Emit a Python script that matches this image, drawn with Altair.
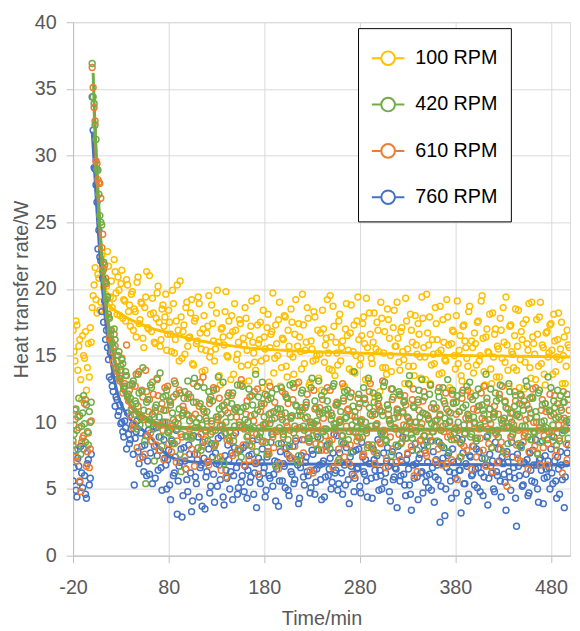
import altair as alt
import pandas as pd

series_names = ["100 RPM", "420 RPM", "610 RPM", "760 RPM"]
series_colors = ["#FFC000", "#70AD47", "#ED7D31", "#4472C4"]

# sample times (min): even minutes and odd minutes
time_even = list(range(-20, 500, 2))
time_odd = list(range(-19, 500, 2))

rpm100_even = [
    16.9, 14.6, 17.3, 15.7, 13.2, 16.5, 14.8, 12.4, 15.9, 17.1,
    18.6, 20.3, 19.2, 21.1, 18.4, 22.5, 20.1, 19.6, 22.8, 18.9,
    20.6, 19.3, 21.3, 18.1, 19.9, 20.4, 17.8, 19.1, 20.7, 18.3,
    17.2, 19.8, 18.5, 16.4, 20.9, 17.7, 18.9, 15.6, 19.4, 17.1,
    21.0, 16.8, 18.2, 15.9, 19.7, 17.5, 16.2, 18.8, 17.9, 15.4,
    18.4, 16.6, 19.9, 15.2, 17.6, 16.9, 20.6, 14.8, 17.3, 18.6,
    15.7, 16.4, 19.2, 14.3, 17.8, 16.1, 18.9, 15.5, 17.0, 13.9,
    16.7, 19.5, 15.3, 17.4, 14.6, 18.2, 16.0, 12.8, 17.1, 15.8,
    19.8, 14.9, 16.5, 18.0, 13.6, 16.9, 15.1, 17.7, 14.2, 16.3,
    18.6, 15.4, 13.1, 17.2, 16.0, 14.5, 19.3, 15.9, 17.5, 12.6,
    16.4, 14.8, 18.1, 15.6, 16.8, 13.7, 17.3, 15.0, 19.0, 14.1,
    16.2, 17.9, 13.4, 15.7, 18.5, 14.9, 16.6, 12.9, 17.4, 15.3,
    19.6, 14.4, 16.0, 17.8, 13.0, 15.5, 18.3, 14.7, 16.9, 15.1,
    12.4, 17.0, 15.8, 19.2, 14.0, 16.4, 18.7, 13.5, 15.2, 17.6,
    14.6, 16.1, 12.7, 18.9, 15.4, 16.7, 13.8, 17.3, 15.0, 19.4,
    14.3, 16.5, 17.9, 13.2, 15.6, 18.2, 14.8, 16.0, 11.9, 17.5,
    15.3, 19.0, 14.1, 16.8, 13.6, 17.7, 15.0, 12.5, 18.4, 15.7,
    16.3, 13.9, 17.1, 14.7, 19.3, 15.5, 12.8, 16.9, 14.2, 18.0,
    15.1, 16.6, 13.3, 17.8, 14.9, 19.6, 15.8, 12.9, 16.2, 14.4,
    17.4, 15.2, 18.7, 13.7, 16.0, 14.6, 17.9, 12.6, 15.9, 16.8,
    14.0, 19.1, 15.4, 13.5, 17.2, 16.1, 14.8, 18.3, 12.2, 15.6,
    16.7, 14.3, 17.6, 15.0, 19.5, 13.8, 16.4, 15.3, 18.1, 12.9,
    14.9, 17.0, 15.7, 13.4, 16.9, 18.6, 14.5, 15.8, 12.7, 17.3,
    15.1, 16.5, 13.9, 18.4, 14.7, 16.2, 12.5, 17.7, 15.4, 14.1,
    19.0, 15.9, 13.2, 16.6, 17.9, 14.4, 15.6, 12.8, 16.8, 15.2,
    17.4, 13.6, 16.1, 14.9, 18.2, 15.5, 12.9, 16.4, 14.2, 15.8,
]
rpm100_odd = [
    15.3, 17.6, 13.9, 16.2, 11.7, 15.0, 16.8, 14.1, 13.4, 16.0,
    19.5, 21.6, 18.2, 20.8, 19.0, 21.9, 18.7, 20.2, 21.7, 19.4,
    18.6, 22.2, 19.7, 20.9, 18.0, 21.4, 19.2, 17.6, 20.3, 18.8,
    19.6, 16.9, 18.3, 20.5, 17.4, 19.0, 16.3, 18.6, 21.3, 17.0,
    18.1, 19.3, 16.0, 17.8, 20.2, 15.7, 18.5, 17.2, 19.6, 16.6,
    17.5, 15.3, 18.9, 16.2, 20.3, 14.6, 17.9, 16.8, 15.1, 19.0,
    16.3, 18.2, 14.4, 17.6, 15.9, 19.4, 16.7, 13.8, 18.0, 15.4,
    17.2, 14.9, 18.8, 16.1, 15.5, 19.9, 13.5, 17.0, 16.4, 18.3,
    15.0, 17.6, 13.2, 16.8, 18.9, 14.7, 16.0, 17.4, 12.9, 15.8,
    17.8, 14.3, 16.5, 19.1, 15.2, 13.9, 17.3, 16.2, 14.6, 18.4,
    15.5, 17.1, 13.0, 16.6, 19.7, 14.8, 15.9, 17.7, 12.7, 16.3,
    18.0, 14.2, 16.9, 15.1, 17.5, 13.6, 19.2, 15.7, 16.4, 14.0,
    17.3, 15.4, 18.6, 12.8, 16.1, 14.6, 17.9, 15.0, 13.3, 16.7,
    18.4, 14.5, 16.3, 15.2, 19.5, 13.9, 17.2, 16.0, 14.3, 18.1,
    15.6, 12.6, 17.0, 16.5, 14.0, 18.8, 15.3, 13.7, 17.6, 16.2,
    14.8, 17.4, 15.9, 19.3, 13.1, 16.6, 14.4, 18.2, 15.5, 16.9,
    12.3, 17.8, 15.2, 14.1, 18.5, 16.3, 13.8, 17.1, 15.7, 19.0,
    14.5, 16.8, 15.3, 12.9, 17.6, 14.2, 18.1, 16.0, 13.5, 15.8,
    17.4, 14.9, 19.4, 15.6, 13.2, 16.7, 17.9, 14.3, 15.1, 18.6,
    16.2, 13.6, 15.4, 17.7, 14.7, 19.2, 15.8, 12.4, 16.9, 15.0,
    18.0, 14.4, 16.5, 13.1, 17.3, 15.6, 14.2, 18.7, 16.1, 13.7,
    15.9, 17.5, 14.6, 19.1, 16.3, 12.8, 17.0, 15.2, 14.0, 18.2,
    16.6, 13.4, 15.5, 17.8, 14.8, 16.0, 19.4, 13.9, 17.2, 15.3,
    14.1, 18.5, 15.7, 12.6, 16.8, 17.4, 14.5, 15.9, 18.9, 13.3,
    16.4, 15.1, 17.7, 14.2, 19.0, 15.8, 13.6, 16.7, 14.9, 17.3,
    15.4, 18.1, 13.8, 16.2, 14.7, 17.5, 15.0, 12.9, 16.9, 15.6,
]

rpm420_even = [
    8.6, 10.2, 9.4, 11.8, 7.6, 10.7, 9.9, 11.3, 8.3, 10.0,
    36.9, 33.9, 31.2, 28.9, 25.5, 24.8, 22.0, 20.5, 19.4, 17.8,
    16.9, 15.6, 16.2, 14.6, 15.3, 13.9, 14.4, 12.7, 13.5, 12.1,
    11.8, 12.9, 10.6, 11.4, 13.6, 9.8, 12.3, 10.9, 5.4, 11.7,
    10.2, 12.6, 9.5, 11.1, 13.2, 10.4, 8.9, 11.9, 10.0, 12.4,
    9.2, 11.3, 10.7, 8.4, 12.1, 9.9, 7.6, 10.5, 11.8, 9.0,
    13.1, 10.1, 8.8, 11.5, 9.6, 12.7, 10.3, 7.9, 11.0, 9.4,
    10.8, 12.3, 9.1, 11.6, 8.3, 10.4, 13.4, 9.7, 11.2, 6.9,
    10.0, 12.0, 9.3, 11.4, 8.6, 10.9, 12.8, 9.8, 7.4, 11.1,
    10.2, 8.9, 12.5, 9.5, 11.3, 10.6, 7.8, 11.9, 9.2, 13.0,
    10.4, 8.5, 11.7, 9.9, 12.2, 10.8, 6.7, 11.0, 9.6, 12.6,
    9.1, 10.7, 11.8, 8.2, 10.3, 12.9, 9.7, 11.2, 7.5, 10.5,
    12.4, 9.4, 11.5, 8.8, 10.0, 13.3, 9.9, 11.1, 8.0, 10.6,
    12.0, 9.3, 10.9, 11.6, 8.4, 10.2, 12.7, 9.6, 11.3, 7.2,
    10.8, 9.0, 12.3, 10.4, 8.7, 11.9, 9.8, 13.8, 10.1, 8.9,
    11.4, 9.5, 12.6, 10.0, 8.1, 11.1, 9.7, 12.2, 10.6, 7.7,
    11.8, 9.2, 10.5, 13.0, 8.6, 11.0, 9.9, 12.5, 10.3, 8.3,
    10.9, 12.1, 9.4, 11.5, 8.8, 10.4, 13.5, 9.1, 11.2, 10.0,
    7.9, 12.4, 9.6, 10.7, 11.9, 8.5, 10.2, 12.8, 9.3, 11.0,
    9.7, 12.3, 10.5, 8.2, 11.6, 9.9, 13.2, 10.1, 8.7, 11.4,
    9.5, 12.0, 10.8, 7.4, 11.1, 9.2, 12.7, 10.3, 8.9, 11.7,
    10.0, 8.6, 12.5, 9.8, 11.3, 10.6, 13.6, 9.0, 11.0, 8.1,
    10.4, 12.2, 9.4, 11.8, 10.2, 7.8, 11.5, 9.6, 12.9, 10.7,
    9.1, 11.2, 10.5, 8.4, 12.1, 9.7, 11.6, 13.1, 8.9, 10.3,
    11.9, 9.3, 10.8, 7.6, 12.4, 10.0, 9.5, 11.4, 8.7, 10.9,
    12.6, 9.8, 11.1, 8.3, 10.4, 12.0, 9.2, 11.5, 10.1, 8.8,
]
rpm420_odd = [
    9.1, 11.0, 8.0, 10.5, 9.7, 12.0, 8.5, 9.3, 10.8, 11.5,
    34.4, 32.3, 29.0, 27.1, 25.0, 21.3, 20.6, 19.2, 18.1, 16.6,
    15.9, 17.0, 14.1, 15.0, 13.3, 14.7, 12.5, 13.8, 11.9, 12.8,
    10.9, 13.1, 11.6, 9.5, 12.2, 10.3, 14.1, 8.6, 11.5, 9.9,
    12.8, 10.6, 7.1, 11.3, 9.7, 13.7, 8.2, 10.9, 12.0, 9.3,
    11.6, 8.7, 10.2, 12.9, 9.5, 11.0, 6.3, 10.7, 12.3, 8.9,
    10.5, 11.9, 9.0, 13.3, 10.0, 8.1, 11.4, 9.8, 12.6, 10.3,
    8.6, 11.7, 10.1, 12.4, 9.4, 7.3, 11.0, 10.6, 13.0, 9.2,
    11.5, 8.8, 10.4, 12.2, 9.7, 11.1, 7.9, 10.8, 12.7, 9.5,
    11.2, 10.0, 8.3, 12.0, 9.6, 13.6, 10.9, 8.9, 11.4, 9.8,
    12.1, 7.6, 10.6, 11.8, 9.1, 10.3, 12.5, 8.4, 11.0, 10.2,
    9.4, 11.9, 8.7, 12.8, 10.5, 9.2, 11.3, 7.0, 10.8, 12.2,
    9.7, 11.1, 10.4, 8.6, 12.6, 9.0, 11.6, 10.1, 13.1, 8.8,
    10.7, 12.3, 9.5, 11.0, 8.0, 10.5, 12.9, 9.9, 11.4, 10.0,
    8.5, 11.8, 10.3, 12.4, 9.3, 7.7, 11.2, 10.8, 9.6, 12.1,
    10.1, 8.9, 11.7, 9.4, 13.3, 10.6, 8.3, 11.5, 9.8, 12.0,
    10.9, 9.1, 12.7, 8.7, 11.3, 10.2, 7.5, 11.9, 9.5, 10.7,
    12.3, 8.4, 10.8, 11.6, 9.7, 12.9, 10.0, 8.8, 11.1, 9.3,
    11.7, 10.4, 13.2, 9.0, 10.6, 8.2, 12.1, 9.9, 11.4, 10.1,
    8.6, 11.9, 9.4, 12.6, 10.3, 11.0, 7.8, 10.7, 12.4, 9.2,
    11.5, 10.0, 8.5, 12.2, 9.8, 11.3, 10.6, 13.0, 9.1, 10.4,
    12.0, 8.8, 11.2, 9.6, 10.9, 7.3, 11.8, 10.2, 12.5, 9.4,
    10.7, 11.6, 8.9, 12.8, 9.9, 10.3, 11.1, 8.4, 12.3, 10.0,
    9.5, 12.0, 10.6, 11.4, 8.1, 10.9, 9.7, 12.7, 11.0, 8.7,
    11.8, 9.2, 10.4, 12.2, 8.5, 11.3, 10.1, 9.6, 13.4, 10.8,
    9.0, 11.6, 10.3, 12.4, 8.6, 10.9, 11.5, 9.4, 12.1, 10.2,
]

rpm610_even = [
    8.3, 10.9, 7.1, 9.6, 4.8, 8.8, 11.4, 6.7, 9.2, 8.0,
    36.6, 33.6, 29.6, 28.2, 27.9, 23.1, 21.5, 20.8, 19.4, 16.3,
    16.1, 14.5, 15.7, 13.8, 13.3, 14.2, 12.2, 12.9, 15.8, 11.6,
    10.5, 12.8, 9.9, 13.6, 11.2, 7.3, 12.4, 10.2, 13.9, 9.0,
    11.7, 8.6, 12.1, 10.8, 13.3, 7.9, 11.0, 9.4, 12.6, 10.0,
    8.4, 11.5, 9.7, 13.1, 7.0, 10.3, 12.2, 8.9, 10.9, 6.5,
    11.8, 9.5, 8.0, 12.9, 10.6, 7.6, 11.2, 9.1, 13.4, 8.7,
    10.1, 6.8, 11.9, 9.3, 8.2, 12.5, 10.4, 7.4, 9.8, 11.3,
    5.9, 10.7, 8.6, 12.0, 9.0, 7.7, 11.1, 10.0, 13.2, 8.3,
    9.6, 11.6, 7.2, 10.5, 8.8, 12.3, 9.1, 6.1, 10.8, 8.5,
    11.4, 9.9, 7.8, 12.7, 10.2, 8.1, 9.4, 11.0, 6.9, 10.6,
    8.9, 12.1, 9.7, 7.5, 10.4, 11.7, 8.2, 9.5, 13.0, 7.1,
    10.9, 8.7, 11.3, 9.2, 6.4, 10.0, 12.4, 8.4, 9.8, 11.1,
    7.9, 10.3, 9.0, 12.6, 8.6, 10.7, 6.6, 9.4, 11.5, 8.0,
    10.1, 12.9, 7.4, 9.7, 11.0, 8.3, 10.5, 6.0, 9.2, 11.8,
    8.8, 10.2, 7.6, 11.4, 9.5, 12.3, 8.1, 10.8, 6.9, 9.9,
    11.2, 8.4, 13.1, 9.1, 7.3, 10.6, 8.9, 11.7, 9.6, 7.0,
    10.4, 12.0, 8.5, 9.8, 11.3, 7.7, 10.1, 8.2, 12.5, 9.4,
    6.3, 10.9, 8.7, 11.6, 9.0, 7.5, 10.3, 12.8, 8.6, 9.7,
    11.1, 8.0, 10.6, 6.8, 9.3, 12.2, 8.9, 10.0, 7.2, 11.5,
    9.6, 5.7, 10.8, 8.4, 12.4, 9.1, 7.9, 10.5, 11.9, 8.2,
    9.9, 7.4, 11.2, 8.8, 10.3, 12.7, 6.7, 9.5, 11.0, 8.1,
    10.6, 9.2, 7.0, 12.1, 8.5, 10.1, 11.6, 5.2, 9.7, 8.9,
    10.7, 12.3, 8.3, 9.4, 7.1, 11.3, 9.0, 10.2, 6.5, 11.8,
    8.7, 10.0, 12.6, 7.7, 9.6, 10.9, 8.1, 11.4, 6.8, 9.3,
    10.5, 8.6, 12.0, 7.9, 9.8, 11.1, 6.2, 10.3, 8.4, 11.7,
]
rpm610_odd = [
    9.8, 7.4, 10.4, 5.6, 8.5, 9.0, 11.7, 7.8, 6.6, 10.1,
    35.1, 32.6, 29.4, 28.0, 26.8, 24.1, 21.8, 20.4, 17.9, 16.9,
    15.3, 16.6, 14.1, 15.0, 13.1, 14.8, 12.6, 13.5, 11.9, 12.4,
    11.0, 9.6, 12.7, 8.1, 13.8, 10.5, 11.9, 7.6, 12.3, 10.8,
    9.2, 13.0, 10.4, 8.3, 12.0, 9.8, 11.4, 7.2, 10.9, 12.7,
    9.4, 7.8, 11.9, 10.0, 8.6, 12.4, 9.1, 11.2, 7.4, 10.6,
    12.1, 8.9, 10.3, 6.7, 11.5, 9.6, 13.0, 8.2, 10.8, 9.3,
    7.1, 11.4, 9.9, 12.6, 8.4, 10.2, 11.8, 6.4, 9.5, 10.9,
    8.7, 12.2, 9.3, 7.5, 11.0, 10.4, 8.0, 12.8, 9.7, 6.8,
    10.6, 9.0, 11.9, 8.2, 10.1, 7.0, 12.5, 9.6, 11.2, 8.6,
    9.9, 12.0, 7.6, 10.7, 8.9, 11.5, 9.3, 6.5, 10.4, 12.3,
    8.1, 10.0, 11.4, 9.4, 7.3, 12.6, 8.8, 10.5, 9.6, 11.1,
    7.7, 10.3, 12.1, 8.5, 9.8, 6.2, 11.0, 9.1, 10.8, 8.3,
    11.7, 9.5, 7.9, 10.6, 12.4, 8.7, 9.9, 11.3, 7.0, 10.2,
    9.0, 11.6, 8.4, 10.9, 6.9, 12.2, 9.3, 10.4, 8.6, 11.1,
    10.0, 7.5, 11.8, 9.2, 8.3, 12.9, 10.5, 7.8, 9.7, 11.4,
    8.5, 10.8, 9.4, 6.6, 11.3, 10.1, 12.5, 8.0, 9.6, 11.0,
    9.1, 7.2, 10.7, 12.0, 8.8, 10.3, 9.5, 11.7, 6.0, 10.0,
    11.5, 8.6, 9.9, 12.3, 7.7, 10.5, 8.9, 11.1, 9.3, 7.1,
    10.2, 12.6, 8.3, 9.7, 11.4, 6.9, 10.8, 9.0, 12.1, 8.7,
    10.6, 9.4, 7.4, 11.8, 8.2, 10.3, 12.4, 9.8, 6.5, 11.0,
    8.8, 10.9, 9.5, 12.2, 7.9, 10.1, 11.5, 8.4, 9.9, 6.3,
    11.2, 9.1, 10.6, 8.0, 12.7, 9.6, 7.6, 11.0, 10.3, 8.9,
    9.8, 11.6, 7.3, 10.4, 12.0, 8.5, 9.2, 11.3, 7.8, 10.7,
    12.5, 8.2, 10.0, 9.4, 6.8, 11.7, 9.0, 10.8, 8.4, 12.1,
    9.3, 10.6, 7.5, 11.4, 8.8, 10.2, 12.3, 9.6, 7.2, 10.9,
]

rpm760_even = [
    5.6, 7.9, 4.4, 6.7, 8.2, 5.1, 6.0, 4.3, 7.2, 5.8,
    34.4, 29.1, 27.8, 23.0, 22.4, 18.3, 17.5, 16.2, 15.6, 13.4,
    13.2, 12.3, 11.2, 11.7, 10.8, 9.9, 9.3, 10.1, 8.0, 9.1,
    8.7, 9.8, 5.3, 9.3, 7.8, 10.4, 8.2, 6.3, 9.0, 7.1,
    6.1, 8.6, 9.7, 5.8, 7.5, 8.9, 6.6, 10.0, 7.3, 5.0,
    7.9, 4.2, 8.4, 6.2, 9.4, 5.6, 7.0, 2.9, 8.1, 6.5,
    4.8, 7.6, 3.3, 9.0, 5.9, 7.2, 4.4, 6.8, 8.5, 3.5,
    6.3, 8.0, 5.2, 7.4, 4.0, 6.9, 8.8, 5.7, 7.1, 3.8,
    6.4, 8.3, 5.0, 7.7, 6.0, 9.2, 4.6, 7.0, 5.5, 8.1,
    6.7, 4.3, 7.5, 5.9, 8.6, 6.2, 3.6, 7.3, 5.4, 8.0,
    6.6, 4.9, 7.8, 5.8, 9.1, 6.1, 4.1, 7.0, 5.6, 8.4,
    6.9, 5.1, 7.6, 4.5, 6.3, 8.2, 5.7, 7.2, 3.9, 6.6,
    8.7, 5.3, 7.4, 6.0, 4.7, 7.9, 6.4, 5.5, 8.9, 6.8,
    4.2, 7.1, 5.9, 8.3, 6.5, 5.0, 7.7, 6.2, 9.0, 5.4,
    7.0, 4.6, 6.8, 8.1, 5.7, 7.4, 6.1, 4.8, 7.9, 6.6,
    5.2, 8.5, 6.3, 7.2, 4.4, 6.9, 5.8, 8.0, 6.4, 7.5,
    4.9, 6.0, 9.3, 5.5, 7.1, 6.7, 4.1, 7.8, 5.9, 6.5,
    8.2, 5.6, 7.0, 6.1, 4.5, 7.6, 5.3, 3.4, 6.8, 8.4,
    5.9, 7.3, 6.2, 4.7, 7.9, 6.0, 5.1, 8.6, 6.6, 4.0,
    7.2, 5.7, 2.5, 6.9, 8.1, 5.0, 7.5, 6.3, 4.3, 7.0,
    5.8, 8.8, 6.4, 3.2, 7.7, 5.4, 6.7, 4.6, 7.4, 6.1,
    5.3, 8.0, 6.6, 4.8, 7.3, 5.9, 6.8, 3.8, 7.6, 6.2,
    5.0, 8.5, 6.0, 7.1, 4.4, 6.9, 5.5, 7.8, 6.3, 4.9,
    7.4, 5.8, 2.2, 6.7, 8.2, 5.2, 7.0, 6.1, 4.5, 7.7,
    5.6, 6.8, 8.7, 5.0, 7.2, 6.4, 3.9, 7.5, 5.9, 6.6,
    8.0, 5.4, 7.1, 4.3, 6.5, 7.8, 5.7, 3.6, 6.9, 8.3,
]
rpm760_odd = [
    6.6, 4.9, 7.3, 5.5, 6.2, 8.0, 4.6, 6.9, 5.3, 7.6,
    31.9, 29.0, 26.5, 24.4, 22.1, 20.8, 19.1, 16.9, 14.7, 15.2,
    12.7, 13.6, 11.9, 10.5, 11.3, 10.0, 8.9, 9.6, 10.7, 8.4,
    9.5, 7.6, 8.8, 10.1, 6.9, 9.2, 7.4, 8.3, 6.0, 9.4,
    7.7, 5.4, 8.2, 9.6, 6.4, 7.9, 4.9, 8.7, 6.8, 7.2,
    5.3, 8.6, 6.0, 7.4, 3.1, 6.7, 8.0, 4.5, 7.1, 5.7,
    8.3, 6.2, 4.1, 7.6, 5.4, 8.9, 6.6, 3.7, 7.3, 5.9,
    7.0, 4.7, 8.4, 6.1, 7.7, 5.2, 6.8, 9.0, 4.4, 7.5,
    5.8, 7.2, 6.3, 4.2, 8.1, 6.6, 5.1, 7.9, 6.0, 4.8,
    8.3, 6.4, 5.5, 7.6, 4.6, 6.9, 8.7, 5.9, 7.0, 6.2,
    4.4, 7.4, 6.0, 8.5, 5.2, 7.1, 6.5, 3.7, 7.8, 5.6,
    6.7, 8.1, 4.9, 7.3, 6.1, 5.4, 8.6, 6.8, 4.3, 7.5,
    5.9, 7.0, 6.3, 8.8, 5.1, 7.6, 4.6, 6.5, 7.9, 5.7,
    6.9, 4.4, 8.2, 6.0, 7.3, 5.5, 9.1, 6.4, 4.9, 7.7,
    6.2, 8.4, 5.3, 7.0, 3.9, 6.7, 7.8, 5.8, 6.5, 8.0,
    4.7, 7.4, 6.1, 5.6, 8.3, 6.9, 4.3, 7.2, 5.9, 8.7,
    6.4, 5.0, 7.7, 6.2, 8.1, 4.8, 7.0, 5.7, 6.6, 3.6,
    7.5, 6.0, 8.9, 5.3, 7.2, 6.5, 4.6, 7.9, 5.8, 6.9,
    4.2, 7.6, 6.3, 8.3, 5.5, 7.0, 6.1, 4.9, 7.8, 5.9,
    6.8, 8.5, 5.2, 7.3, 3.0, 6.6, 7.7, 5.6, 8.0, 6.2,
    4.7, 7.1, 6.4, 8.7, 5.4, 6.9, 4.1, 7.5, 6.0, 8.2,
    6.5, 5.1, 7.8, 6.2, 4.5, 7.3, 8.9, 5.8, 6.7, 7.1,
    4.8, 6.3, 8.0, 5.6, 7.4, 6.1, 3.4, 7.0, 5.9, 8.5,
    6.6, 4.3, 7.6, 6.0, 8.3, 5.3, 6.9, 7.2, 4.7, 6.4,
    7.9, 5.5, 6.8, 4.0, 7.3, 8.6, 5.8, 6.5, 7.1, 5.0,
    6.2, 8.9, 5.6, 7.4, 4.6, 6.8, 9.4, 5.9, 7.7, 10.0,
]

# fitted trend curves
fit100_t = [12, 15, 20, 30, 40, 60, 80, 100, 130, 160, 200, 250, 300, 350, 400, 450, 500]
fit100_v = [19.3, 19.0, 18.6, 18.1, 17.7, 17.1, 16.7, 16.3, 15.9, 15.6, 15.4, 15.25, 15.15, 15.05, 15.0, 14.95, 14.9]

fit420_t = [1, 2, 4, 6, 8, 10, 12, 15, 18, 21, 25, 30, 35, 40, 50, 60, 70, 80, 100, 150, 200, 300, 400, 500]
fit420_v = [36.2, 34.0, 30.5, 27.4, 24.8, 22.6, 20.8, 18.6, 16.9, 15.6, 14.2, 12.9, 12.0, 11.3, 10.7, 10.2, 9.9, 9.7, 9.6, 9.55, 9.5, 9.5, 9.5, 9.5]

fit610_t = [2, 4, 6, 8, 10, 12, 15, 18, 21, 25, 30, 35, 40, 50, 60, 70, 80, 100, 150, 200, 300, 400, 500]
fit610_v = [33.4, 30.0, 27.0, 24.5, 22.3, 20.5, 18.3, 16.7, 15.4, 14.0, 12.8, 11.9, 11.2, 10.4, 10.0, 9.7, 9.6, 9.5, 9.45, 9.4, 9.4, 9.4, 9.4]

fit760_t = [0, 2, 4, 6, 8, 10, 12, 15, 18, 21, 25, 30, 35, 40, 45, 50, 60, 70, 80, 90, 110, 150, 250, 500]
fit760_v = [31.8, 29.5, 27.0, 24.7, 22.6, 20.7, 19.0, 17.0, 15.3, 14.0, 12.6, 11.4, 10.7, 10.2, 9.9, 9.6, 9.0, 8.1, 7.5, 7.2, 7.0, 6.9, 6.85, 6.8]

x_ticks = [-20, 80, 180, 280, 380, 480]
y_ticks = [0, 5, 10, 15, 20, 25, 30, 35, 40]

# ---- build tables ----
series_values = {
    "100 RPM": (rpm100_even, rpm100_odd),
    "420 RPM": (rpm420_even, rpm420_odd),
    "610 RPM": (rpm610_even, rpm610_odd),
    "760 RPM": (rpm760_even, rpm760_odd),
}
rows = []
for name, (ev, od) in series_values.items():
    for times, vals in ((time_even, ev), (time_odd, od)):
        for t, v in zip(times, vals):
            rows.append({"t": t, "v": v, "series": name})
points = pd.DataFrame(rows).sort_values(["series", "t"]).reset_index(drop=True)

fits = {
    "100 RPM": (fit100_t, fit100_v),
    "420 RPM": (fit420_t, fit420_v),
    "610 RPM": (fit610_t, fit610_v),
    "760 RPM": (fit760_t, fit760_v),
}
color_of = dict(zip(series_names, series_colors))

x_enc = alt.X(
    "t:Q",
    scale=alt.Scale(domain=[-20, 500], nice=False, zero=False),
    axis=alt.Axis(
        values=x_ticks,
        title="Time/min",
        labelPadding=15,
        titlePadding=12,
        labelFlush=False,
        labelExpr="datum.value < 0 ? '-' + abs(datum.value) : '' + datum.value",
    ),
)
y_enc = alt.Y(
    "v:Q",
    scale=alt.Scale(domain=[0, 40], nice=False, zero=True),
    axis=alt.Axis(values=y_ticks, title="Heat transfer rate/W", labelPadding=10,
                  titlePadding=3, labelFlush=False),
)

legend_symbol = "M-1,0L-0.42,0M0.42,0L1,0M0.42,0A0.42,0.42,0,1,1,-0.42,0A0.42,0.42,0,1,1,0.42,0"

color_enc = alt.Color(
    "series:N",
    scale=alt.Scale(domain=series_names, range=series_colors),
    legend=alt.Legend(
        title=None,
        orient="none",
        legendX=289,
        legendY=6,
        direction="vertical",
        symbolType=legend_symbol,
        symbolSize=1089,
        symbolStrokeWidth=2,
        labelFont="Liberation Sans",
        labelFontSize=20,
        labelColor="#000000",
        labelOffset=10,
        padding=13,
        rowPadding=18,
        fillColor="#ffffff",
        strokeColor="#000000",
    ),
)


def point_layer(name):
    return (
        alt.Chart(points)
        .transform_filter(alt.datum.series == name)
        .mark_point(filled=False, size=36, strokeWidth=1.5, opacity=1, clip=True)
        .encode(x=x_enc, y=y_enc, color=color_enc)
    )


def line_layer(name):
    ft, fv = fits[name]
    df = pd.DataFrame({"t": ft, "v": fv})
    return (
        alt.Chart(df)
        .mark_line(color=color_of[name], strokeWidth=3, interpolate="monotone", clip=True)
        .encode(x=x_enc, y=y_enc)
    )


chart = (
    alt.layer(
        point_layer("100 RPM"),
        line_layer("100 RPM"),
        point_layer("760 RPM"),
        line_layer("760 RPM"),
        line_layer("610 RPM"),
        line_layer("420 RPM"),
        point_layer("610 RPM"),
        point_layer("420 RPM"),
    )
    .properties(
        width=504,
        height=541,
        autosize=alt.AutoSizeParams(type="none"),
        padding={"left": 66, "top": 10, "right": 2, "bottom": 72},
    )
    .configure_view(stroke="#d9d9d9", strokeWidth=1)
    .configure_axis(
        grid=True,
        gridColor="#d9d9d9",
        gridWidth=1,
        domainColor="#bfbfbf",
        tickColor="#bfbfbf",
        tickSize=7,
        labelFont="Liberation Sans",
        labelFontSize=20,
        labelColor="#595959",
        titleFont="Liberation Sans",
        titleFontSize=20,
        titleFontWeight="normal",
        titleColor="#595959",
    )
)

chart.save("out.html", embed_options={"renderer": "svg", "actions": False})
